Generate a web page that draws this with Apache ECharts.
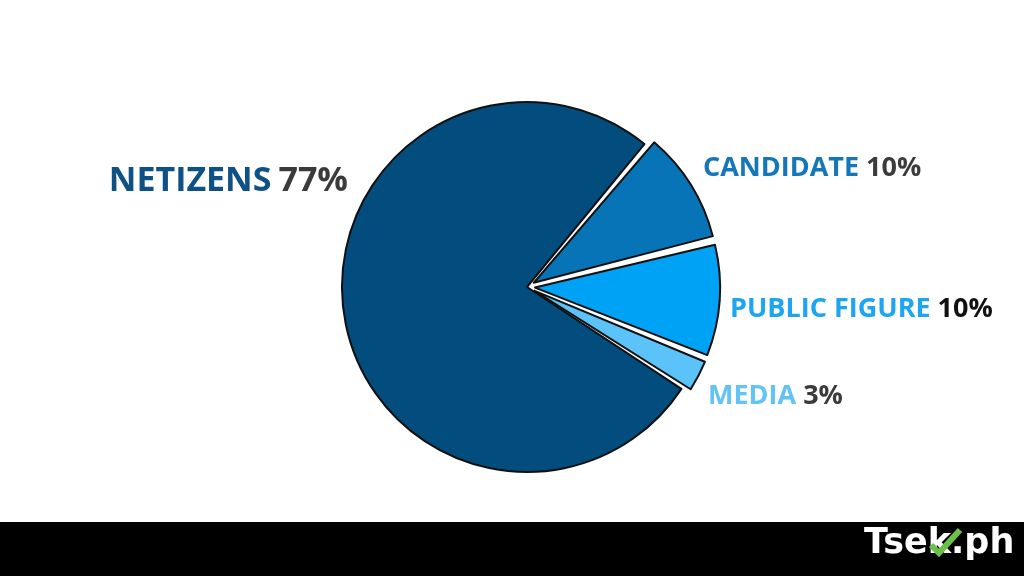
<!DOCTYPE html>
<html>
<head>
<meta charset="utf-8">
<script src="https://cdn.jsdelivr.net/npm/echarts@6/dist/echarts.min.js"></script>
<style>html,body{margin:0;padding:0;background:#fff}#c{width:1024px;height:576px}</style>
</head>
<body>
<div id="c"></div>
<script>
const categories = ['CANDIDATE', 'PUBLIC FIGURE', 'MEDIA', 'NETIZENS'];
const values = [10, 10, 3, 77];
const sliceColors = ['#0874b8', '#00a2f5', '#5bc2fa', '#034d7e'];
const nameColors = ['#1477ba', '#1ca5f0', '#62c3f6', '#0d5186'];
const pctColors = ['#3b3b3b', '#111111', '#3b3b3b', '#3b3b3b'];
const exploded = [true, true, true, false];

const labelSpots = [
  {x: 703, y: 168, align: 'left', size: 27},
  {x: 730, y: 309, align: 'left', size: 27},
  {x: 708, y: 396, align: 'left', size: 27},
  {x: 348, y: 181, align: 'right', size: 34}
];

const chart = echarts.init(document.getElementById('c'));
const sliceData = categories.map((n, i) => ({
  name: n,
  value: values[i],
  selected: exploded[i],
  itemStyle: {color: sliceColors[i]}
}));
const labelData = categories.map((n, i) => ({
  name: n,
  value: values[i],
  label: {
    formatter: '{n|{b}}{p|{c}%}',
    rich: {
      n: {color: nameColors[i], fontSize: labelSpots[i].size, fontWeight: 700, fontFamily: 'Open Sans', padding: [0, 7, 0, 0]},
      p: {color: pctColors[i], fontSize: labelSpots[i].size, fontWeight: 700, fontFamily: 'Open Sans'}
    }
  }
}));

const common = {
  type: 'pie',
  center: [527, 287],
  radius: [0, 185],
  startAngle: 50,
  clockwise: true,
  avoidLabelOverlap: false,
  emphasis: {disabled: true}
};

chart.setOption({
  animation: false,
  backgroundColor: '#ffffff',
  series: [
    Object.assign({}, common, {
      padAngle: 1.2,
      selectedMode: 'multiple',
      selectedOffset: 8,
      itemStyle: {borderColor: '#111', borderWidth: 2},
      label: {show: false},
      labelLine: {show: false},
      data: sliceData
    }),
    Object.assign({}, common, {
      silent: true,
      z: 5,
      itemStyle: {color: 'rgba(0,0,0,0)', borderWidth: 0},
      label: {show: true, position: 'outside', overflow: 'none', alignTo: 'none'},
      labelLine: {show: false},
      labelLayout: function (p) {
        const s = labelSpots[p.dataIndex];
        return {x: s.x, y: s.y, align: s.align, verticalAlign: 'middle'};
      },
      data: labelData
    })
  ],
  graphic: [
    {type: 'rect', left: 0, top: 522, shape: {width: 1024, height: 54}, style: {fill: '#000'}},
    {type: 'text', left: 864, top: 526, style: {text: 'Tsek.ph', fill: '#fff', font: '900 35px "DejaVu Sans"'}},
    {type: 'polyline', shape: {points: [[931, 545], [939, 553], [960, 530]]}, style: {stroke: '#6cc04a', lineWidth: 6, fill: null, lineCap: 'butt'}}
  ]
});
</script>
</body>
</html>
